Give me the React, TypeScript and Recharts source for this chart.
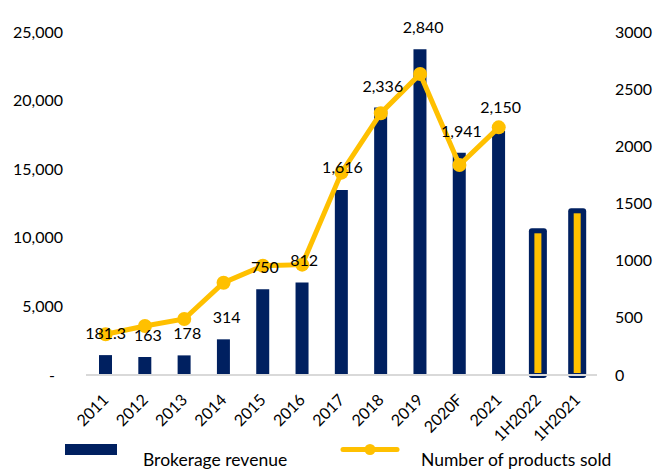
import React from "react";
import { ComposedChart, Bar, Line, XAxis, YAxis, LabelList } from "recharts";

const categories = ["2011", "2012", "2013", "2014", "2015", "2016", "2017", "2018", "2019", "2020F", "2021", "1H2022", "1H2021"];
const brokerageRevenue = [1450, 1310, 1430, 2600, 6250, 6750, 13480, 19500, 23740, 16200, 17800, null, null];
const productsSold = [356, 429, 490, 807, 955, 965, 1770, 2290, 2633, 1837, 2166, null, null];
const productsSold1H = [null, null, null, null, null, null, null, null, null, null, null, 1262, 1437];
const productLabels = ["181.3", "163", "178", "314", "750", "812", "1,616", "2,336", "2,840", "1,941", "2,150", "1,262", "1,437"];

const leftTicks = [0, 5000, 10000, 15000, 20000, 25000];
const rightTicks = [0, 500, 1000, 1500, 2000, 2500, 3000];

const NAVY = "#002060";
const GOLD = "#FFC000";
const TEXT = "#000";
const FONT = "Lato, 'Open Sans', sans-serif";

// where Excel put each line label, relative to its point
const LABEL_NUDGE = [
  [0, -1], [3, 9], [3, 14], [3, 35], [2, 2], [2, -4], [1, -5],
  [2, -27], [3, -47], [2, -34], [2, -20],
];

const data = categories.map((c, i) => ({
  category: c,
  revenue: brokerageRevenue[i],
  products: productsSold[i],
  products1H: productsSold1H[i],
  label: productLabels[i],
}));

function LeftTick({ x, y, payload }: any) {
  const zero = payload.value === 0;
  return (
    <text x={zero ? x - 8 : x} y={y} dy="0.35em" textAnchor="end" fontSize={16} fill={TEXT} fontFamily={FONT}>
      {zero ? "-" : payload.value.toLocaleString("en-US")}
    </text>
  );
}

function RightTick({ x, y, payload }: any) {
  return (
    <text x={x} y={y} dy="0.35em" textAnchor="start" fontSize={16} fill={TEXT} fontFamily={FONT}>
      {payload.value}
    </text>
  );
}

function CategoryTick({ x, y, payload }: any) {
  const ax = x + 4;
  const ay = y + 18;
  return (
    <text x={ax} y={ay} transform={`rotate(-45, ${ax}, ${ay})`} textAnchor="end" fontSize={16} fill={TEXT} fontFamily={FONT}>
      {payload.value}
    </text>
  );
}

function HalfYearBar({ x, y, width, height }: any) {
  if (height == null || isNaN(height) || height <= 0) return null;
  const cx = x + width / 2;
  return (
    <g>
      <rect x={cx - 9} y={y - 2.4} width={18} height={height + 5.4} rx={3} fill={NAVY} />
      <rect x={cx - 3.5} y={y + 2.6} width={7} height={height - 4.6} fill={GOLD} />
    </g>
  );
}

function LineLabel({ x, y, index }: any) {
  const nudge = LABEL_NUDGE[index];
  if (!nudge || y == null) return null;
  return (
    <text x={x + nudge[0]} y={y + nudge[1]} dy="0.35em" textAnchor="middle" fontSize={16} fill={TEXT} fontFamily={FONT}>
      {productLabels[index]}
    </text>
  );
}

function HalfYearLabel({ x, y, width, index }: any) {
  if (y == null || productsSold1H[index] == null) return null;
  return (
    <text x={x + width / 2 + 2} y={y - 22} dy="0.35em" textAnchor="middle" fontSize={16} fill={TEXT} fontFamily={FONT}>
      {productLabels[index]}
    </text>
  );
}

export default function App() {
  return (
    <div style={{ position: "absolute", left: 0, top: 0, width: 668, height: 469, background: "#fff", fontFamily: FONT }}>
      <ComposedChart
        width={668}
        height={469}
        data={data}
        margin={{ top: 32, right: 0, bottom: 0, left: 0 }}
        barGap={-13}
      >
        <XAxis
          dataKey="category"
          interval={0}
          height={94}
          tickLine={false}
          axisLine={{ stroke: "#D9D9D9", strokeWidth: 2 }}
          tick={<CategoryTick />}
        />
        <YAxis
          yAxisId="left"
          orientation="left"
          width={86}
          domain={[0, 25000]}
          ticks={leftTicks}
          axisLine={false}
          tickLine={false}
          tickSize={0}
          tickMargin={23}
          tick={<LeftTick />}
        />
        <YAxis
          yAxisId="right"
          orientation="right"
          width={71}
          domain={[0, 3000]}
          ticks={rightTicks}
          axisLine={false}
          tickLine={false}
          tickSize={0}
          tickMargin={18}
          tick={<RightTick />}
        />
        <Bar yAxisId="left" dataKey="revenue" fill={NAVY} barSize={13} isAnimationActive={false} />
        <Bar yAxisId="right" dataKey="products1H" barSize={13} shape={<HalfYearBar />} isAnimationActive={false}>
          <LabelList dataKey="products1H" content={<HalfYearLabel />} />
        </Bar>
        <Line
          yAxisId="right"
          type="linear"
          dataKey="products"
          stroke={GOLD}
          strokeWidth={5}
          dot={{ r: 7, fill: GOLD, stroke: "none" }}
          activeDot={false}
          isAnimationActive={false}
        >
          <LabelList dataKey="products" content={<LineLabel />} />
        </Line>
      </ComposedChart>

      <div style={{ position: "absolute", left: 65, top: 444, width: 52, height: 11, background: NAVY }} />
      <div style={{ position: "absolute", left: 143, top: 449, fontSize: 17.5, lineHeight: "21px", color: TEXT }}>
        Brokerage revenue
      </div>
      <svg style={{ position: "absolute", left: 340, top: 443 }} width={60} height={13}>
        <line x1={3} y1={6.5} x2={57} y2={6.5} stroke={GOLD} strokeWidth={5} strokeLinecap="round" />
        <circle cx={30} cy={6.5} r={5.5} fill={GOLD} />
      </svg>
      <div style={{ position: "absolute", left: 421, top: 449, fontSize: 17.5, lineHeight: "21px", color: TEXT }}>
        Number of products sold
      </div>
    </div>
  );
}
